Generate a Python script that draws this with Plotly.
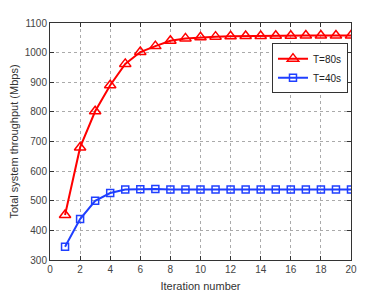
import plotly.graph_objects as go

iterations = list(range(1, 21))
t80 = [452, 680, 802, 890, 962, 1002, 1022, 1040, 1048, 1052, 1054, 1055, 1056, 1056, 1057, 1057, 1058, 1058, 1058, 1058]
t40 = [345, 438, 500, 526, 538, 539, 540, 538, 538, 538, 538, 538, 538, 538, 538, 538, 538, 538, 538, 538]
x_ticks = [0, 2, 4, 6, 8, 10, 12, 14, 16, 18, 20]
y_ticks = [300, 400, 500, 600, 700, 800, 900, 1000, 1100]

fig = go.Figure()
fig.add_trace(go.Scatter(x=iterations, y=t80, mode="lines+markers", name="T=80s",
                         line=dict(color="#ff0000", width=2),
                         marker=dict(symbol="triangle-up-open", size=10, color="#ff0000",
                                     line=dict(width=1.5, color="#ff0000"))))
fig.add_trace(go.Scatter(x=iterations, y=t40, mode="lines+markers", name="T=40s",
                         line=dict(color="#1f3fff", width=2),
                         marker=dict(symbol="square-open", size=7, color="#1f3fff",
                                     line=dict(width=1.5, color="#1f3fff"))))

axis_common = dict(showline=True, linecolor="#333333", linewidth=1, mirror="ticks",
                   ticks="inside", ticklen=4, tickcolor="#333333",
                   showgrid=True, gridcolor="#aaaaaa", griddash="dot", gridwidth=1,
                   zeroline=False, automargin=False,
                   tickfont=dict(size=10, color="#444444"),
                   title_font=dict(size=11, color="#333333"))

fig.update_xaxes(range=[0, 20], tickvals=x_ticks, title_text="Iteration number",
                 title_standoff=8, **axis_common)
fig.update_yaxes(range=[300, 1100], tickvals=y_ticks, title_text="Total system throughput (Mbps)",
                 title_standoff=3, **axis_common)

# page body has an 8px default margin, so the figure is sized/offset to compensate
fig.update_layout(
    width=380, height=286,
    margin=dict(l=42, r=37, t=15, b=34),
    paper_bgcolor="white", plot_bgcolor="white",
    font=dict(family="Liberation Sans, Arial, sans-serif", size=10, color="#333333"),
    showlegend=True,
    legend=dict(x=0.99, y=0.915, xanchor="right", yanchor="top",
                bgcolor="white", bordercolor="#333333", borderwidth=1,
                font=dict(size=10, color="#222222"),
                tracegroupgap=0, itemwidth=30),
)

fig.write_html("out.html")
